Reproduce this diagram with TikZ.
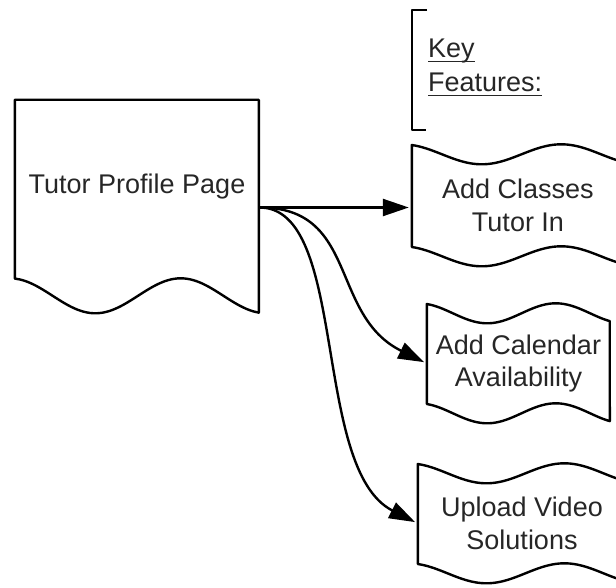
\documentclass[tikz,border=0pt]{standalone}
\usepackage{fontspec}
\setmainfont{Liberation Sans}
\usetikzlibrary{arrows.meta}
\newcommand\keyul[1]{\setbox0\hbox{#1}\rlap{\rule[-4.5pt]{\wd0}{1.8pt}}\box0}
\newcommand\tapeoutline[3]{%
  \begin{scope}[shift={(#1.north west)}]
    \draw[shapeline] plot[smooth, domain=0:1, samples=40, variable=\u] ({#2*\u},{11+10*cos(360*(\u-0.33)/0.75)})
      -- plot[smooth, domain=1:0, samples=40, variable=\u] ({#2*\u},{#3+11+10*cos(360*(\u-0.33)/0.75)}) -- cycle;
  \end{scope}}
\begin{document}
\begin{tikzpicture}[x=1pt,y=-1pt,
  shapeline/.style={line width=2.4pt, line join=round, draw=black},
  boxtext/.style={font=\fontsize{27}{32.5}\selectfont, text=black!85, align=center, inner sep=0pt},
  keytext/.style={font=\fontsize{27}{34}\selectfont, text=black!85, inner sep=0pt, anchor=base west},
  conn/.style={line width=2.4pt, shorten >=3pt, -{Triangle[length=26pt,width=17pt]}}]
\useasboundingbox (0,0) rectangle (616,588);
\clip (0,0) rectangle (616,588);

% nodes
\node[minimum width=244pt, minimum height=215pt, inner sep=0pt,
      label={[boxtext, yshift=20.5pt]center:Tutor Profile Page}] (tutor) at (137,207.5) {};
\node[boxtext, minimum width=212pt, minimum height=124pt] (cls) at (518,205.5) {Add Classes\\Tutor In};
\node[boxtext, minimum width=183pt, minimum height=122pt] (cal) at (518.5,363.5) {Add Calendar\\Availability};
\node[boxtext, minimum width=208pt, minimum height=122pt] (up) at (522,523.5) {Upload Video\\Solutions};

% outlines
\begin{scope}[shift={(tutor.north west)}]
  \draw[shapeline] (0,0) -- (244,0)
    -- plot[smooth, domain=1:0, samples=40, variable=\u] ({244*\u},{196+17.5*cos(360*(\u-0.33)/0.7)}) -- cycle;
\end{scope}
\tapeoutline{cls}{212}{102}
\tapeoutline{cal}{183}{100}
\tapeoutline{up}{208}{100}

% key features
\draw[shapeline] (427,10) -- (412,10) -- (412,130) -- (426,130);
\node[keytext] (key1) at (428,58) {\keyul{Key}};
\node[keytext] (key2) at (428,92) {\keyul{Features:}};

% connectors
\draw[conn] (tutor.east) -- (cls.west |- tutor.east);
\draw[conn] (tutor.east) .. controls (359,207) and (329,315) .. (cal.west);
\draw[conn] (tutor.east) .. controls (349,207) and (311,469) .. (up.west);
\end{tikzpicture}
\end{document}
